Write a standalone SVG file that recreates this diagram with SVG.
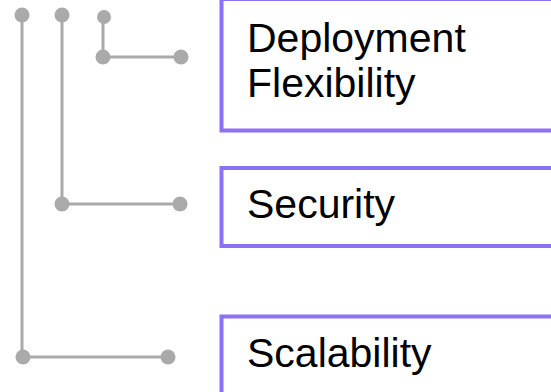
<svg xmlns="http://www.w3.org/2000/svg" width="551" height="392" viewBox="0 0 551 392">
<style>
.box{fill:#ffffff;stroke:#8c70f6;stroke-width:4}
.lbl{font-family:"Liberation Sans",Arial,sans-serif;font-size:41px;fill:#000000}
.ln{stroke:#aaaaaa;stroke-width:3;fill:none}
.dot{fill:#aaaaaa}
</style>
<rect width="551" height="392" fill="#ffffff"/>
<g id="connectors">
<path class="ln" d="M22,15 V357 H168"/>
<path class="ln" d="M62,15 V204 H180"/>
<path class="ln" d="M103,17 V57 H181"/>
<circle class="dot" cx="22" cy="15" r="7.5"/>
<circle class="dot" cx="62" cy="15" r="7.5"/>
<circle class="dot" cx="104" cy="17" r="7"/>
<circle class="dot" cx="103" cy="57" r="7.5"/>
<circle class="dot" cx="181" cy="57" r="7.5"/>
<circle class="dot" cx="62" cy="204" r="7.5"/>
<circle class="dot" cx="180" cy="204" r="7.5"/>
<circle class="dot" cx="23" cy="357" r="7.5"/>
<circle class="dot" cx="168" cy="357" r="7.5"/>
</g>
<g id="deployment">
<rect class="box" x="221.5" y="-1" width="340" height="131.5"/>
<text class="lbl" x="247" y="52">Deployment</text>
<text class="lbl" x="247" y="97">Flexibility</text>
</g>
<g id="security">
<rect class="box" x="221.5" y="168" width="340" height="78"/>
<text class="lbl" x="247" y="218">Security</text>
</g>
<g id="scalability">
<rect class="box" x="221.5" y="316.5" width="340" height="90"/>
<text class="lbl" x="247" y="367">Scalability</text>
</g>
</svg>
